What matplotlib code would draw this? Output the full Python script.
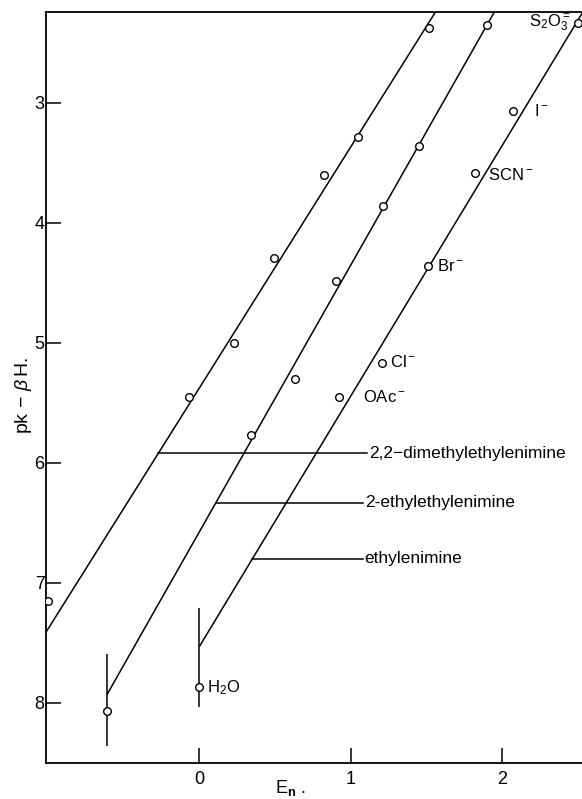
import matplotlib
matplotlib.use("Agg")
import matplotlib.pyplot as plt
import numpy as np

plt.rcParams['font.family'] = ['Liberation Sans', 'DejaVu Sans']
plt.rcParams['mathtext.fontset'] = 'custom'
plt.rcParams['mathtext.rm'] = 'Liberation Sans'
plt.rcParams['mathtext.it'] = 'Liberation Sans:italic'
plt.rcParams['mathtext.bf'] = 'Liberation Sans:bold'

# ---- data ----
# 2,2-dimethylethylenimine
dm_x = [-1.00, -0.066, 0.23, 0.495, 0.825, 1.05, 1.52]
dm_y = [7.15, 5.45, 5.00, 4.29, 3.60, 3.28, 2.375]
# 2-ethylethylenimine
et_x = [-0.61, 0.34, 0.635, 0.90, 1.215, 1.45, 1.90]
et_y = [8.07, 5.77, 5.30, 4.48, 3.86, 3.36, 2.35]
# ethylenimine (anions)
en_names = [r"H$_2$O", r"OAc$^-$", r"Cl$^-$", r"Br$^-$", r"SCN$^-$", r"I$^-$", r"S$_2$O$_3^=$"]
en_x = [0.0, 0.925, 1.21, 1.51, 1.82, 2.07, 2.50]
en_y = [7.87, 5.45, 5.17, 4.36, 3.58, 3.07, 2.33]

# uncertainty ranges (vertical bars)
bar_x = [-0.61, 0.0]
bar_lo = [7.59, 7.21]
bar_hi = [8.36, 8.03]

# fitted lines: (x0, y0, x1, y1)
line_names = ["2,2\u2212dimethylethylenimine", "2-ethylethylenimine", "ethylenimine"]
fit_x0 = [-1.013, -0.61, 0.0]
fit_y0 = [7.41, 7.93, 7.53]
fit_x1 = [1.56, 1.95, 2.53]
fit_y1 = [2.242, 2.24, 2.25]
leader_y = [5.92, 6.33, 6.80]
leader_end = [1.11, 1.08, 1.08]

yticks = [3, 4, 5, 6, 7, 8]
xticks = [0, 1, 2]

# ---- figure ----
fig = plt.figure(figsize=(5.82, 7.99), dpi=100)
ax = fig.add_axes([46/582, 1-763/799, 1-46/582, (763-12)/799])
ax.set_xlim(-1.013, 2.528)
ax.set_ylim(8.5, 2.242)

lw = 1.1
for x0, y0, x1, y1, ly, le, nm in zip(fit_x0, fit_y0, fit_x1, fit_y1,
                                       leader_y, leader_end, line_names):
    ax.plot([x0, x1], [y0, y1], color='black', lw=lw, solid_capstyle='butt')
    # leader from line to label
    lx = x0 + (ly - y0) * (x1 - x0) / (y1 - y0)
    ax.plot([lx, le], [ly, ly], color='black', lw=lw)
    ax.text(le + 0.012, ly, nm, fontsize=12.5, va='center', ha='left')

ax.vlines(bar_x, bar_lo, bar_hi, color='black', lw=lw)

mk = dict(marker='o', ms=5.5, mfc='white', mec='black', mew=1.0,
          linestyle='none', zorder=5, clip_on=True)
ax.plot(dm_x, dm_y, **mk)
ax.plot(et_x, et_y, **mk)
ax.plot(en_x, en_y, **mk)

# anion labels
offs = {0: (0.05, 0.0, 'left'),
        1: (0.155, 0.0, 'left'),
        2: (0.05, -0.01, 'left'),
        3: (0.06, 0.0, 'left'),
        4: (0.09, 0.02, 'left'),
        5: (0.14, 0.0, 'left'),
        6: (-0.05, 0.0, 'right')}
for i, (nm, x, y) in enumerate(zip(en_names, en_x, en_y)):
    dx, dy, ha = offs[i]
    ax.text(x + dx, y + dy, nm, fontsize=12, va='center', ha=ha)

ax.set_xticks(xticks)
ax.set_yticks(yticks)
ax.set_xticklabels([str(t) for t in xticks])
ax.set_yticklabels([str(t) for t in yticks])
ax.tick_params(axis='both', direction='in', length=11, width=1.1, labelsize=13)
ax.tick_params(axis='y', pad=1)
ax.tick_params(axis='x', pad=6)

for s in ['left', 'bottom', 'top']:
    ax.spines[s].set_linewidth(1.3)
ax.spines['right'].set_visible(False)

fig.text(23/582, 1-395/799, r"pk$\,-\,\beta\,$H.", rotation=90, fontsize=14,
         ha='center', va='center')
fig.text(290/582, 1-788/799, r"E$_{\mathbf{n}}$ .", fontsize=13,
         ha='center', va='center')

fig.savefig("out.png", dpi=100)
